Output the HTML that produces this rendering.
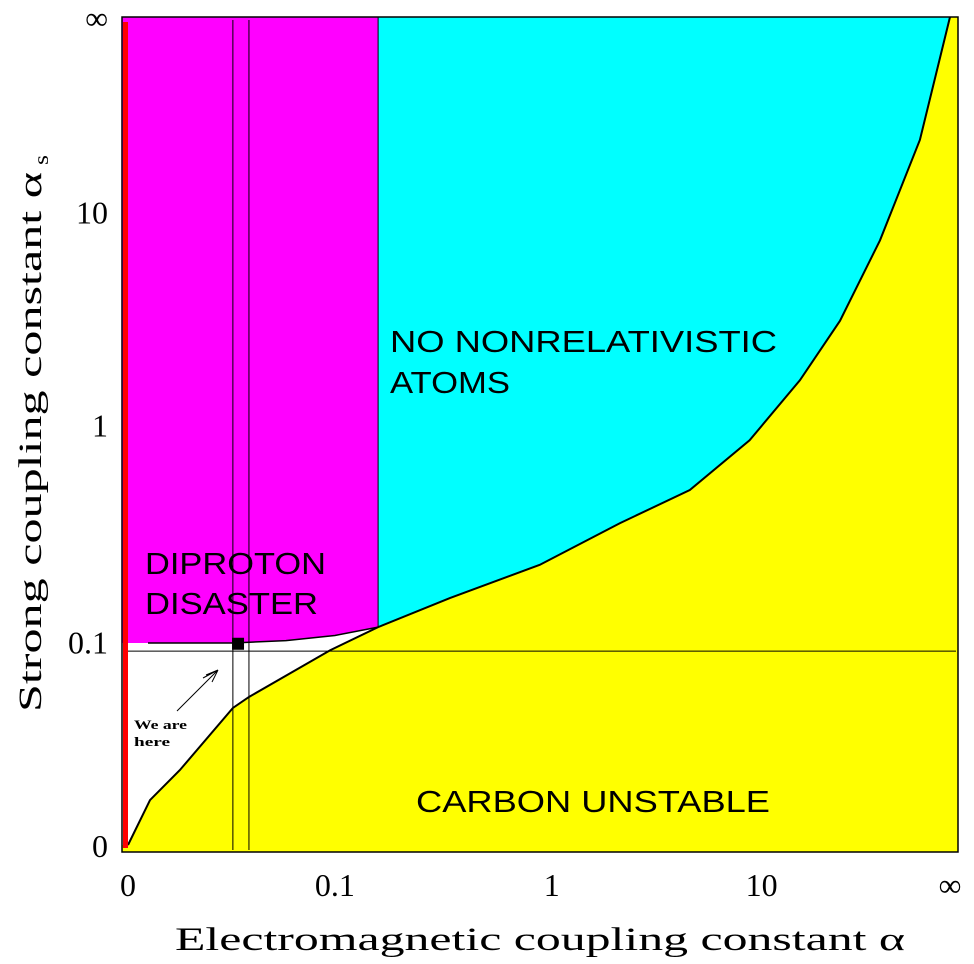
<!DOCTYPE html>
<html><head><meta charset="utf-8"><style>
html,body{margin:0;padding:0;background:#fff;}
svg{display:block;}
text{font-family:"Liberation Serif",serif;fill:#000;}
.lbl{font-family:"Liberation Sans",sans-serif;font-size:31px;}
</style></head><body>
<svg id="chart" width="974" height="964" viewBox="0 0 974 964" xmlns="http://www.w3.org/2000/svg"></svg>
<script>
// data
const carbonCurveAlpha = [0, 0.00067, 0.004, 0.0189, 0.0263, 0.094, 0.169, 0.366, 0.89, 1.96, 4.12, 8.5, 17.7, 37, 102, 612, Infinity];
const carbonCurveAlphaS = [0, 0.0031, 0.0093, 0.037, 0.0446, 0.089, 0.12, 0.17, 0.246, 0.38, 0.53, 0.86, 1.54, 2.8, 6.9, 31, Infinity];
const diprotonAlpha = [0.00055, 0.0189, 0.05, 0.1, 0.169];
const diprotonAlphaS = [0.098, 0.098, 0.101, 0.108, 0.12];
const relativisticLimitAlpha = 0.169;
const observedAlpha = [0.0189, 0.0263];
const observedAlphaS = 0.088;
const ourPoint = [0.0211, 0.097];
const xTickValues = [0, 0.1, 1, 10, Infinity];
const xTickLabels = ["0", "0.1", "1", "10", "\u221E"];
const yTickValues = [0, 0.1, 1, 10, Infinity];
const yTickLabels = ["0", "0.1", "1", "10", "\u221E"];

const X0 = 128, X1 = 950, Y0 = 845, Y1 = 17;
function xs(a){ if(a===Infinity) return X1; const r=Math.sqrt(a); return X0+(X1-X0)*r/(r+0.94); }
function ys(s){ if(s===Infinity) return Y1; const r=Math.sqrt(s); return Y0-(Y0-Y1)*r/(r+0.97); }

const svg = document.getElementById('chart');
const NS = 'http://www.w3.org/2000/svg';
function mk(tag, attrs, parent){ const e=document.createElementNS(NS,tag); for(const k in attrs) e.setAttribute(k,attrs[k]); (parent||svg).appendChild(e); return e; }

const xr = xs(relativisticLimitAlpha);
// magenta region
let e = mk('rect',{x:122,y:17,width:xr-122,height:835,fill:'#ff00ff'});


// cyan region
e = mk('rect',{x:xr,y:17,width:958-xr,height:835,fill:'#00ffff'});


// white habitable region below diproton line
let dp = 'M122,' + ys(diprotonAlphaS[0]) + ' ';
for(let i=0;i<diprotonAlpha.length;i++) dp += 'L'+xs(diprotonAlpha[i])+','+ys(diprotonAlphaS[i])+' ';
dp += 'L'+xr+',852 L122,852 Z';
e = mk('path',{d:dp,fill:'#fff'});


// yellow region
let cp = 'M'+xs(carbonCurveAlpha[0])+','+ys(carbonCurveAlphaS[0])+' ';
let cl = cp;
for(let i=1;i<carbonCurveAlpha.length;i++){ const s='L'+xs(carbonCurveAlpha[i])+','+ys(carbonCurveAlphaS[i])+' '; cp+=s; cl+=s; }
cp += 'L958,17 L958,852 L122,852 L122,845 Z';
e = mk('path',{d:cp,fill:'#ffff00'});


e = mk('path',{d:cl,fill:'none',stroke:'#000','stroke-width':2});


// diproton line
let dl = '';
for(let i=0;i<diprotonAlpha.length;i++) dl += (i?'L':'M')+xs(diprotonAlpha[i])+','+ys(diprotonAlphaS[i])+' ';
e = mk('path',{d:dl,fill:'none',stroke:'#000','stroke-width':1.5});


// relativistic boundary
e = mk('line',{x1:xr,y1:17,x2:xr,y2:ys(0.12),stroke:'#000','stroke-width':1});


// observed lines
for(const a of observedAlpha){
  e = mk('line',{x1:xs(a),y1:20,x2:xs(a),y2:850,stroke:'#000','stroke-width':1});
  
  
}
e = mk('line',{x1:128,y1:ys(observedAlphaS),x2:956,y2:ys(observedAlphaS),stroke:'#000','stroke-width':1});


// red bar
e = mk('rect',{x:123,y:22,width:5,height:826,fill:'#ff0000'});


// our point
e = mk('rect',{x:xs(ourPoint[0])-6,y:ys(ourPoint[1])-6,width:12,height:12,fill:'#000'});


// frame
e = mk('rect',{x:122,y:17,width:836,height:835,fill:'none',stroke:'#000','stroke-width':1.5});


// arrow
e = mk('path',{d:'M177,711 L218,670 M218,670 L206,675 M218,670 L212,682 M218,670 L203,678',fill:'none',stroke:'#000','stroke-width':1});


// ticks
for(let i=0;i<xTickValues.length;i++){
  e = mk('text',{x:xs(xTickValues[i]),y:896,'text-anchor':'middle','font-size':32});
  e.textContent = xTickLabels[i];
  
  
}
for(let i=0;i<yTickValues.length;i++){
  e = mk('text',{x:108,y:ys(yTickValues[i])+12,'text-anchor':'end','font-size':32});
  e.textContent = yTickLabels[i];
  
  
}
</script>
<script>
(function(){
const svg=document.getElementById('chart');
const NS='http://www.w3.org/2000/svg';
function t(x,y,txt,len,name,cls,extra){
  const e=document.createElementNS(NS,'text');
  e.setAttribute('x',x);e.setAttribute('y',y);
  if(len){e.setAttribute('textLength',len);e.setAttribute('lengthAdjust','spacingAndGlyphs');}
  if(cls) e.setAttribute('class',cls);
  for(const k in (extra||{})) e.setAttribute(k,extra[k]);
  e.textContent=txt;
  svg.appendChild(e);
  return e;
}
let e;
e=t(390,352,'NO NONRELATIVISTIC',387,'','lbl');


e=t(390,393,'ATOMS',120,'','lbl');


e=t(145,574,'DIPROTON',181,'','lbl');


e=t(145,614,'DISASTER',173,'','lbl');


e=t(416,812,'CARBON UNSTABLE',354,'','lbl');


e=t(134,729,'We are',53,'',null,{'font-family':'Liberation Mono, monospace','font-size':13,'font-weight':'bold'});


e=t(134,746,'here',36,'',null,{'font-family':'Liberation Mono, monospace','font-size':13,'font-weight':'bold'});


e=t(175,950,'Electromagnetic coupling constant \u03B1',730,'',null,{'font-size':33});


e=t(0,0,'Strong coupling constant \u03B1',540,'',null,{'font-size':33,'transform':'translate(41,712) rotate(-90)'});


e=t(0,0,'s',10,'',null,{'font-size':20,'transform':'translate(48,165) rotate(-90)'});


})();
</script>
</body></html>
